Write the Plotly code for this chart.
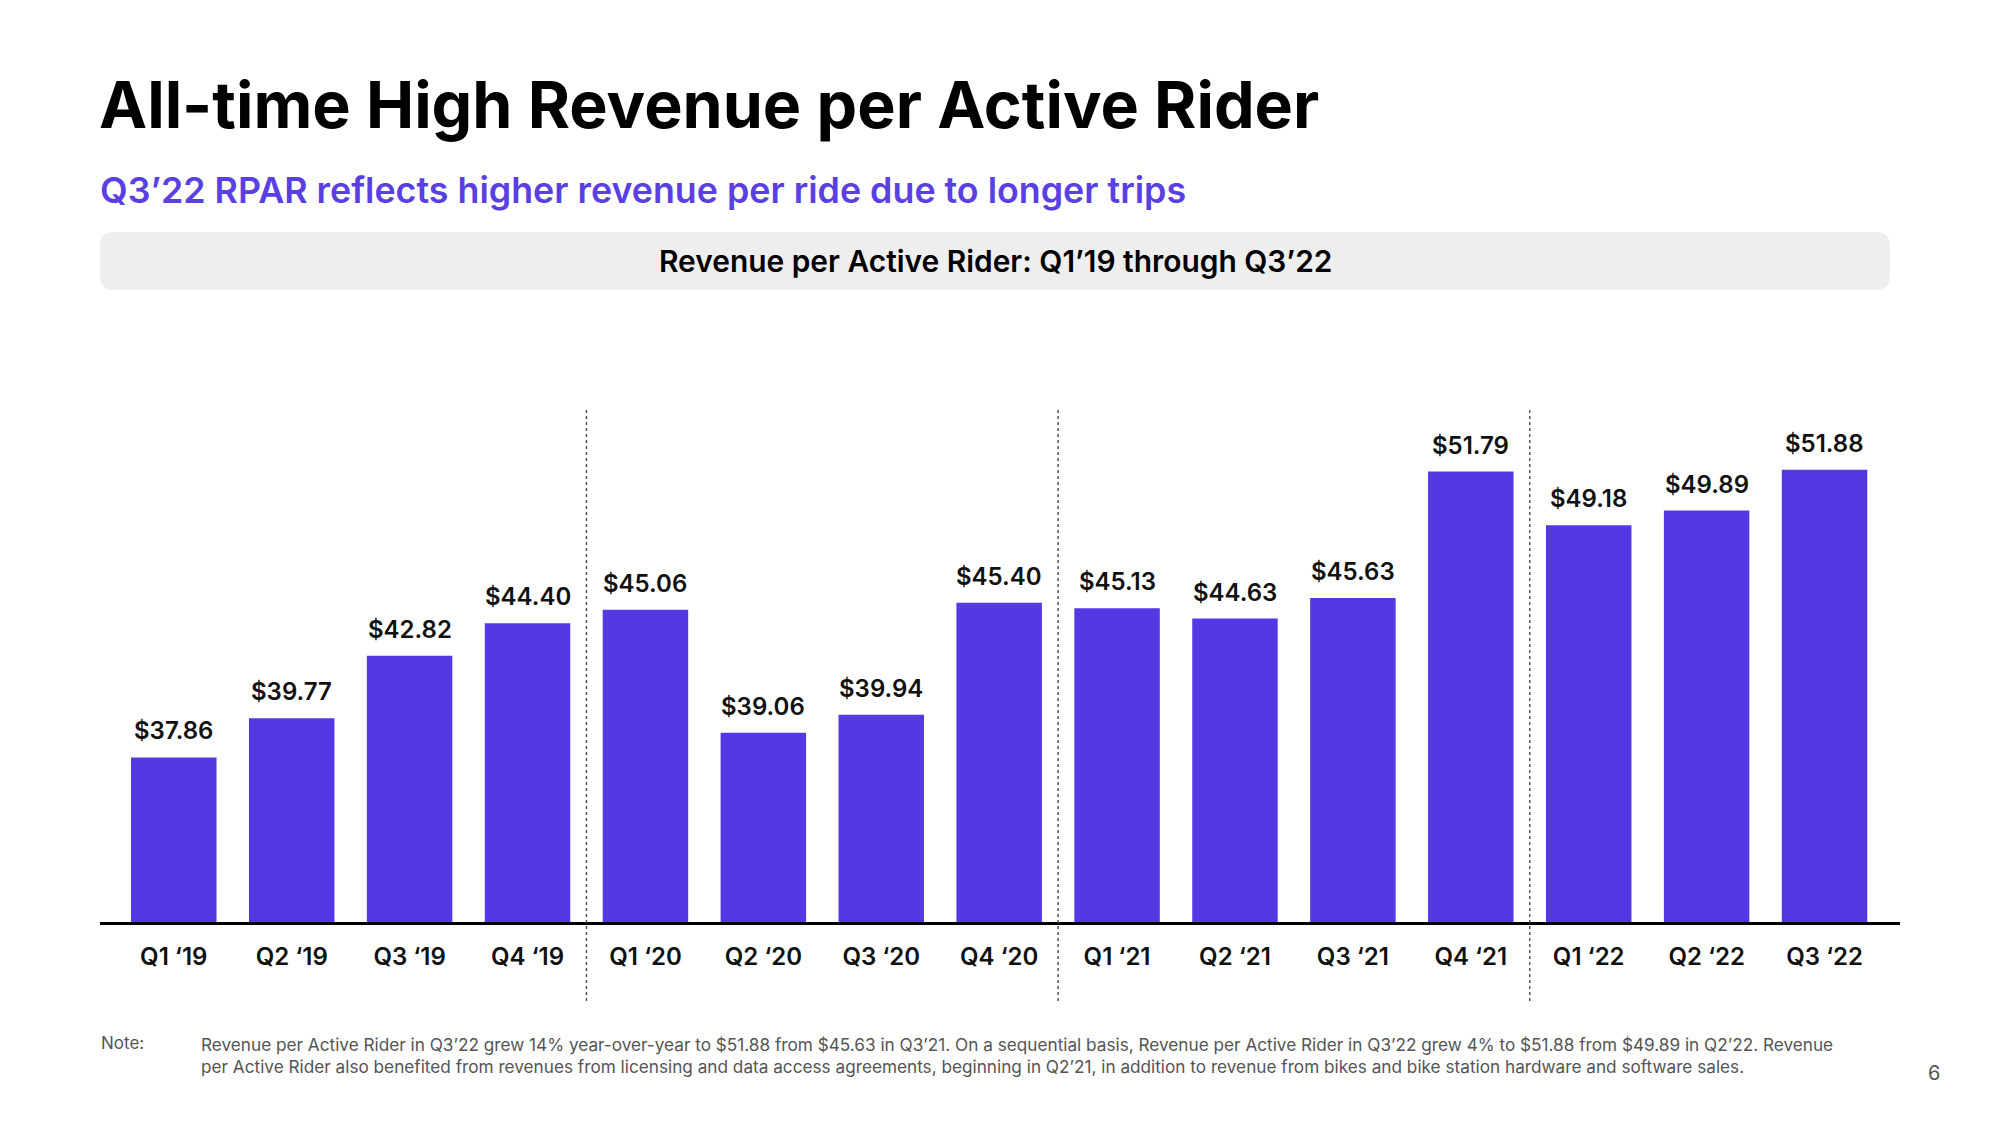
import plotly.graph_objects as go

quarters = ["Q1 ‘19", "Q2 ‘19", "Q3 ‘19", "Q4 ‘19", "Q1 ‘20", "Q2 ‘20", "Q3 ‘20", "Q4 ‘20",
            "Q1 ‘21", "Q2 ‘21", "Q3 ‘21", "Q4 ‘21", "Q1 ‘22", "Q2 ‘22", "Q3 ‘22"]
rpar = [37.86, 39.77, 42.82, 44.40, 45.06, 39.06, 39.94, 45.40,
        45.13, 44.63, 45.63, 51.79, 49.18, 49.89, 51.88]
year_breaks = [3.5, 7.5, 11.5]

title = "All-time High Revenue per Active Rider"
subtitle = "Q3’22 RPAR reflects higher revenue per ride due to longer trips"
banner = "Revenue per Active Rider: Q1’19 through Q3’22"
note_label = "Note:"
note_text = ("Revenue per Active Rider in Q3’22 grew 14% year-over-year to $51.88 from $45.63 in Q3’21. "
             "On a sequential basis, Revenue per Active Rider in Q3’22 grew 4% to $51.88 from $49.89 in Q2’22. Revenue<br>"
             "per Active Rider also benefited from revenues from licensing and data access agreements, beginning in Q2’21, "
             "in addition to revenue from bikes and bike station hardware and software sales.")
page_no = "6"

W, H = 2000, 1125
FONT = "Inter"
BAR = "#5339E3"

def px_x(p):
    return p / W

def px_y(p):
    return 1 - p / H

x_idx = list(range(len(quarters)))

fig = go.Figure()
fig.add_trace(go.Bar(
    x=x_idx, y=rpar, marker_color=BAR, marker_line_width=0,
    width=0.725, hoverinfo="skip",
))

shapes = []
for xb in year_breaks:
    shapes.append(dict(type="line", xref="x", yref="paper", x0=xb, x1=xb,
                       y0=px_y(1001), y1=px_y(408),
                       line=dict(color="#555555", width=1.5, dash="dot")))

# rounded banner
x0, x1 = px_x(100), px_x(1890)
y0, y1 = px_y(290), px_y(232)
rx, ry = 14 / W, 14 / H
path = (f"M {x0+rx},{y0} L {x1-rx},{y0} Q {x1},{y0} {x1},{y0+ry} "
        f"L {x1},{y1-ry} Q {x1},{y1} {x1-rx},{y1} L {x0+rx},{y1} Q {x0},{y1} {x0},{y1-ry} "
        f"L {x0},{y0+ry} Q {x0},{y0} {x0+rx},{y0} Z")
shapes.append(dict(type="path", xref="paper", yref="paper", path=path,
                   fillcolor="#EEEEEE", line=dict(width=0), layer="below"))

annotations = [
    dict(text=title, x=px_x(97), y=px_y(105), xref="paper", yref="paper",
         xanchor="left", yanchor="middle", showarrow=False,
         font=dict(family=FONT, size=64.5, color="#000000", weight=700)),
    dict(text=subtitle, x=px_x(98), y=px_y(190), xref="paper", yref="paper",
         xanchor="left", yanchor="middle", showarrow=False,
         font=dict(family=FONT, size=35.8, color="#5A3FE2", weight=600)),
    dict(text=banner, x=px_x(995), y=px_y(261), xref="paper", yref="paper",
         xanchor="center", yanchor="middle", showarrow=False,
         font=dict(family=FONT, size=29.9, color="#000000", weight=600)),
    dict(text=note_label, x=px_x(99), y=px_y(1043), xref="paper", yref="paper",
         xanchor="left", yanchor="middle", showarrow=False,
         font=dict(family=FONT, size=17, color="#555555")),
    dict(text=note_text, x=px_x(199), y=px_y(1032), xref="paper", yref="paper",
         xanchor="left", yanchor="top", showarrow=False, align="left",
         font=dict(family=FONT, size=17.2, color="#555555")),
    dict(text=page_no, x=px_x(1934), y=px_y(1073), xref="paper", yref="paper",
         xanchor="center", yanchor="middle", showarrow=False,
         font=dict(family=FONT, size=20, color="#555555")),
]
for i, v in zip(x_idx, rpar):
    annotations.append(dict(
        text=f"${v:.2f}", x=i, y=v, xref="x", yref="y",
        xanchor="center", yanchor="bottom", yshift=10, showarrow=False,
        font=dict(family=FONT, size=24, color="#111111", weight=600)))

fig.update_layout(
    width=W, height=H, margin=dict(l=0, r=0, t=0, b=0),
    paper_bgcolor="white", plot_bgcolor="white", showlegend=False,
    shapes=shapes, annotations=annotations,
    xaxis=dict(domain=[px_x(99.5), px_x(1900)], range=[-0.63, 14.64],
               tickmode="array", tickvals=x_idx, ticktext=quarters,
               showline=True, linecolor="#000000", linewidth=2.5,
               showgrid=False, zeroline=False, ticks="",
               ticklabelstandoff=11,
               tickfont=dict(family=FONT, size=24, color="#111111", weight=600)),
    yaxis=dict(domain=[px_y(922), px_y(408)], range=[29.84, 54.89],
               visible=False, showgrid=False, zeroline=False),
    font=dict(family=FONT),
)

fig.write_html("out.html", config={"displayModeBar": False},
               post_script="document.body.style.margin='0';")
